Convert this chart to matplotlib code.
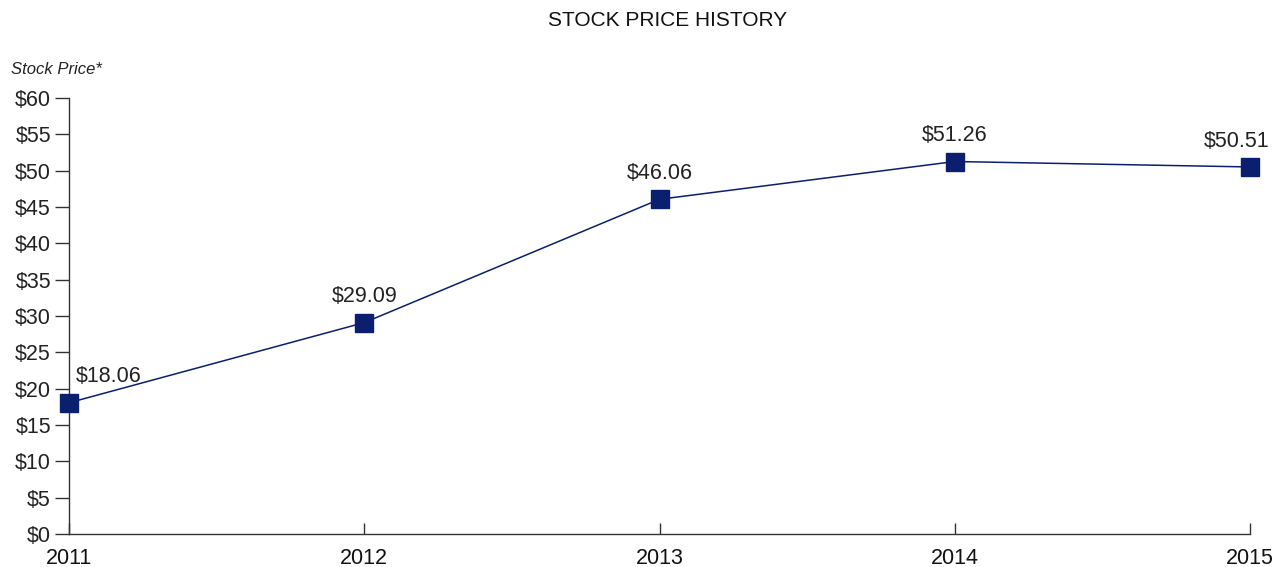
import matplotlib
matplotlib.use("Agg")
from matplotlib import pyplot as plt
from matplotlib.ticker import FuncFormatter

years = ["2011", "2012", "2013", "2014", "2015"]
prices = [18.06, 29.09, 46.06, 51.26, 50.51]
label_text = ["$18.06", "$29.09", "$46.06", "$51.26", "$50.51"]
y_ticks = list(range(0, 65, 5))

navy = "#0b1f6f"
text_col = "#222222"

plt.rcParams["font.family"] = ["Liberation Sans", "DejaVu Sans"]

fig = plt.figure(figsize=(12.76, 5.67), dpi=100)
ax = fig.add_axes([69 / 1276, 1 - 534 / 567, (1250 - 69) / 1276, (534 - 98) / 567])

x = list(range(len(years)))
ax.plot(x, prices, color=navy, linewidth=1.1, marker="s", markersize=12.5,
        markerfacecolor=navy, markeredgecolor=navy, clip_on=False, zorder=3)

# value labels above points
offsets = [(5, 11, "left"), (0, 11, "center"), (0, 11, "center"), (0, 11, "center"), (-10, 11, "center")]
for xi, yi, s, (dx, dy, ha) in zip(x, prices, label_text, offsets):
    ax.annotate(s, (xi, yi), xytext=(dx, dy), textcoords="offset points",
                ha=ha, va="bottom", fontsize=15.5, color=text_col)

ax.set_xlim(0, len(years) - 1)
ax.set_ylim(0, 60)
ax.set_yticks(y_ticks)
ax.yaxis.set_major_formatter(FuncFormatter(lambda v, p: "${:d}".format(int(v))))
ax.set_xticks(x)
ax.set_xticklabels(years)

for side in ["top", "right"]:
    ax.spines[side].set_visible(False)
for side in ["left", "bottom"]:
    ax.spines[side].set_color("#333333")
    ax.spines[side].set_linewidth(1.0)

ax.tick_params(axis="y", direction="out", length=10, width=1, color="#333333",
               labelsize=15.5, labelcolor=text_col, pad=3)
ax.tick_params(axis="x", direction="in", length=8, width=1, color="#333333",
               labelsize=15.5, labelcolor="#111111", pad=10)

fig.text(11 / 1276, 1 - 70 / 567, "Stock Price*", fontsize=12, style="italic",
         color=text_col, va="center", ha="left")
fig.text(668 / 1276, 1 - 21 / 567, "STOCK PRICE HISTORY", fontsize=15,
         color="#111111", va="center", ha="center")

plt.savefig("out.png", dpi=100)
